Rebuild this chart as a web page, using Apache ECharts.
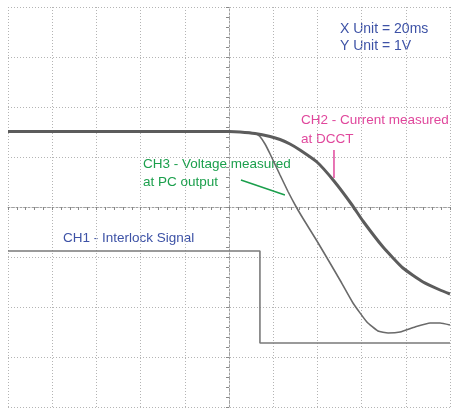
<!DOCTYPE html>
<html><head><meta charset="utf-8">
<script src="https://cdn.jsdelivr.net/npm/echarts@6/dist/echarts.min.js"></script>
<style>html,body{margin:0;padding:0;background:#fff}#c{width:452px;height:409px}</style>
</head><body><div id="c"></div>
<script>
// time in ms (20 ms/div, centre = 0), voltage in V (1 V/div, centre = 0)
const ch2 = [[-100,1.51],[-50,1.51],[0,1.51],[5.0,1.50],[11.8,1.47],[18.6,1.41],[23.1,1.35],[27.6,1.26],[32.1,1.14],[39.8,0.90],[47.5,0.52],[55.7,0.04],[60.6,-0.28],[69.7,-0.80],[78.7,-1.22],[87.8,-1.50],[95.5,-1.66],[100,-1.74]];
const ch3 = [[-100,1.51],[0,1.51],[9.5,1.49],[12.5,1.46],[14.0,1.41],[16.3,1.26],[18.6,1.06],[23.1,0.64],[26.7,0.31],[30.3,0.01],[33.5,-0.23],[39.8,-0.68],[45.7,-1.12],[50.2,-1.46],[56.1,-1.92],[62.4,-2.30],[67.4,-2.48],[72.0,-2.52],[77.4,-2.50],[84.2,-2.40],[91.0,-2.32],[95.5,-2.32],[100,-2.36]];
const ch1 = [[-100,-0.88],[14,-0.88],[14,-2.72],[100,-2.72]];
const ch3Pointer = [[5.4,0.54],[25.3,0.24]];
const ch2Pointer = [[47.5,1.14],[47.5,0.58]];
const labels = {
  unit: ['X Unit = 20ms','Y Unit = 1V'],
  ch2: ['CH2 - Current measured','at DCCT'],
  ch3: ['CH3 - Voltage measured','at PC output'],
  ch1: 'CH1 - Interlock Signal'
};
const blue='#3d52a6', pink='#e0479c', green='#1b9f4c';
const gridLine = {show:true,lineStyle:{color:'#b4b4b4',type:[1,2],width:1}};
function centreAxis(extra){
  return Object.assign({type:'value',axisLabel:{show:false},splitLine:{show:false},
    axisLine:{show:true,onZero:true,lineStyle:{color:'#a0a0a0',type:[2,2],width:1}},
    axisTick:{show:true,length:3,lineStyle:{color:'#888'}},
    minorTick:{show:true,splitNumber:5,length:3,lineStyle:{color:'#888'}}},extra);
}
const chart = echarts.init(document.getElementById('c'),null,{renderer:'canvas'});
chart.setOption({
  animation:false,
  backgroundColor:'#fff',
  grid:{left:8,right:2,top:7,bottom:2},
  xAxis:[
    centreAxis({min:-100,max:100,interval:20,splitLine:gridLine}),
    centreAxis({min:-100,max:100,interval:20,position:'top',axisLine:{show:false},axisTick:{show:true,inside:true,length:3,lineStyle:{color:'#888'}}})
  ],
  yAxis:[
    centreAxis({min:-4,max:4,interval:1,splitLine:gridLine}),
    centreAxis({min:-4,max:4,interval:1,position:'right',axisLine:{show:false},axisTick:{show:true,inside:true,length:3,lineStyle:{color:'#888'}}})
  ],
  graphic:[
    {type:'text',left:340,top:21,style:{text:labels.unit.join('\n'),fill:blue,font:'14px "Liberation Sans"',lineHeight:17}},
    {type:'text',left:301,top:111,style:{text:labels.ch2.join('\n'),fill:pink,font:'13.5px "Liberation Sans"',lineHeight:19}},
    {type:'text',left:143,top:155,style:{text:labels.ch3.join('\n'),fill:green,font:'13.5px "Liberation Sans"',lineHeight:18}},
    {type:'text',left:63,top:231,style:{text:labels.ch1,fill:blue,font:'13.5px "Liberation Sans"'}}
  ],
  series:[
    {type:'line',name:'CH1',data:ch1,symbol:'none',lineStyle:{color:'#7a7a7a',width:1.6}},
    {type:'line',name:'CH3',data:ch3,symbol:'none',smooth:0.15,lineStyle:{color:'#6a6a6a',width:1.6}},
    {type:'line',name:'CH2',data:ch2,symbol:'none',smooth:0.15,lineStyle:{color:'#5c5c5c',width:3}},
    {type:'line',name:'CH3 pointer',data:ch3Pointer,symbol:'none',lineStyle:{color:green,width:1.5}},
    {type:'line',name:'CH2 pointer',data:ch2Pointer,symbol:'none',lineStyle:{color:pink,width:1.5}}
  ]
});
</script></body></html>
